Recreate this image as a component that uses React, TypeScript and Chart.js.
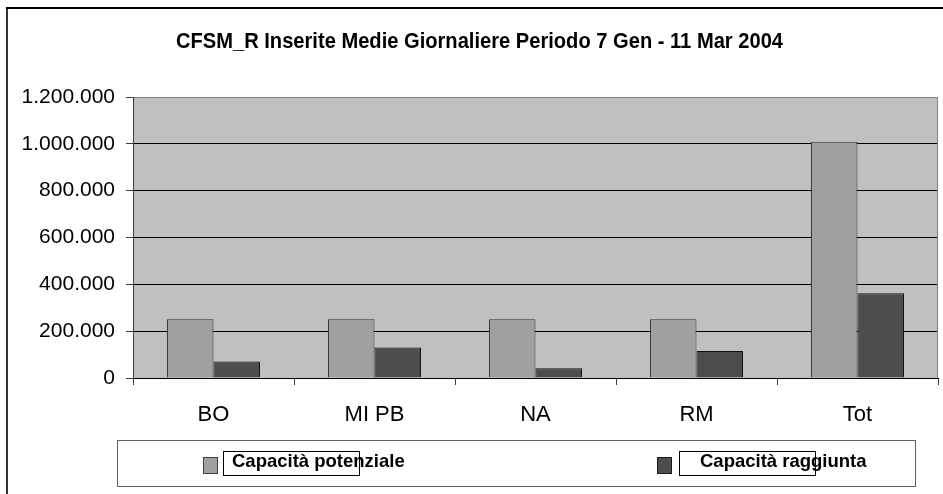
import React, { useEffect, useRef } from "react";
import { Chart, registerables } from "chart.js";

Chart.register(...registerables);

const TITLE = "CFSM_R Inserite Medie Giornaliere Periodo 7 Gen - 11 Mar 2004";
const categories = ["BO", "MI PB", "NA", "RM", "Tot"];
const seriesNames = ["Capacità potenziale", "Capacità raggiunta"];
const potenziale = [251000, 251000, 251000, 251000, 1009000];
const raggiunta = [70000, 130000, 42000, 115000, 362000];
const yTicks = [0, 200000, 400000, 600000, 800000, 1000000, 1200000];

const FONT = "'Liberation Sans', Arial, sans-serif";

const fmt = (v: number) =>
  Math.round(v).toString().replace(/\B(?=(\d{3})+(?!\d))/g, ".");

const decorPlugin = {
  id: "decor",
  beforeDraw(chart: any) {
    const { ctx, chartArea } = chart;
    ctx.save();
    ctx.fillStyle = "#ffffff";
    ctx.fillRect(0, 0, chart.width, chart.height);
    ctx.fillStyle = "#333333";
    ctx.fillRect(6, 7, 2, chart.height);
    ctx.fillStyle = "#000000";
    ctx.fillRect(6, 7, chart.width, 2);
    ctx.fillStyle = "#c0c0c0";
    ctx.fillRect(
      chartArea.left,
      chartArea.top,
      chartArea.right - chartArea.left,
      chartArea.bottom - chartArea.top
    );
    ctx.restore();
  },
  afterDraw(chart: any) {
    const { ctx, chartArea } = chart;
    ctx.save();
    ctx.strokeStyle = "#808080";
    ctx.lineWidth = 1;
    ctx.beginPath();
    ctx.moveTo(Math.round(chartArea.right) - 0.5, chartArea.top);
    ctx.lineTo(Math.round(chartArea.right) - 0.5, chartArea.bottom);
    ctx.stroke();

    ctx.font = `bold 22px ${FONT}`;
    ctx.fillStyle = "#000";
    ctx.textBaseline = "alphabetic";
    const w = ctx.measureText(TITLE).width;
    const target = 607;
    const sx = target / w;
    ctx.save();
    ctx.translate(479.5 - target / 2, 47.5);
    ctx.scale(sx, 1);
    ctx.textAlign = "left";
    ctx.fillText(TITLE, 0, 0);
    ctx.restore();

    ctx.strokeStyle = "#606060";
    ctx.lineWidth = 1;
    ctx.strokeRect(117.5, 440.5, 798, 46);
    const items = [
      { sq: 203, box: 223, bw: 136, tx: 232, color: "#a0a0a0", border: "#404040" },
      { sq: 657, box: 679, bw: 136, tx: 700, color: "#4d4d4d", border: "#1a1a1a" },
    ];
    const ds = chart.data.datasets;
    items.forEach((it, i) => {
      ctx.fillStyle = it.color;
      ctx.fillRect(it.sq, 457, 15, 17);
      ctx.strokeStyle = it.border;
      ctx.strokeRect(it.sq + 0.5, 457.5, 14, 16);
      ctx.fillStyle = "#fff";
      ctx.fillRect(it.box, 451, it.bw, 24);
      ctx.font = `bold 18.5px ${FONT}`;
      ctx.fillStyle = "#000";
      ctx.textAlign = "left";
      ctx.fillText(ds[i].label, it.tx, 466.5);
      ctx.strokeStyle = "#000";
      ctx.strokeRect(it.box + 0.5, 451.5, it.bw, 24);
    });
    ctx.restore();
  },
};

export default function App() {
  const ref = useRef<HTMLCanvasElement | null>(null);
  useEffect(() => {
    if (!ref.current) return;
    const chart = new Chart(ref.current, {
      type: "bar",
      data: {
        labels: categories,
        datasets: [
          {
            label: seriesNames[0],
            data: potenziale,
            backgroundColor: "#a0a0a0",
            borderColor: "#333333",
            borderWidth: 1,
          },
          {
            label: seriesNames[1],
            data: raggiunta,
            backgroundColor: "#4d4d4d",
            borderColor: "#111111",
            borderWidth: 1,
          },
        ],
      },
      options: {
        responsive: false,
        animation: false,
        devicePixelRatio: 1,
        layout: { padding: { top: 97, right: 5, left: 0, bottom: 0 } },
        datasets: {
          bar: { barPercentage: 1, categoryPercentage: 0.578 },
        },
        plugins: {
          legend: { display: false },
          title: { display: false },
          tooltip: { enabled: false },
        },
        scales: {
          x: {
            offset: true,
            afterFit: (s: any) => {
              s.height = 116;
            },
            grid: {
              offset: true,
              drawOnChartArea: false,
              drawTicks: true,
              tickLength: 7,
              tickColor: "#404040",
            },
            border: { color: "#000", width: 1 },
            ticks: {
              color: "#000",
              font: { family: FONT, size: 22 },
              padding: 17,
              maxRotation: 0,
            },
          },
          y: {
            min: 0,
            max: 1200000,
            afterFit: (s: any) => {
              s.width = 133;
            },
            afterBuildTicks: (s: any) => {
              s.ticks = yTicks.map((v) => ({ value: v }));
            },
            grid: {
              color: (c: any) =>
                c.tick && c.tick.value === 1200000 ? "#808080" : "#000",
              lineWidth: 1,
              tickLength: 7,
              tickColor: "#404040",
            },
            border: { color: "#404040", width: 1 },
            ticks: {
              color: "#000",
              font: { family: FONT, size: 21 },
              padding: 11,
              callback: (v: any) => fmt(Number(v)),
            },
          },
        },
      },
      plugins: [decorPlugin],
    });
    return () => chart.destroy();
  }, []);
  return (
    <div style={{ position: "fixed", left: 0, top: 0, width: 943, height: 494, background: "#fff" }}>
      <canvas ref={ref} width={943} height={494} style={{ width: 943, height: 494, display: "block" }} />
    </div>
  );
}
